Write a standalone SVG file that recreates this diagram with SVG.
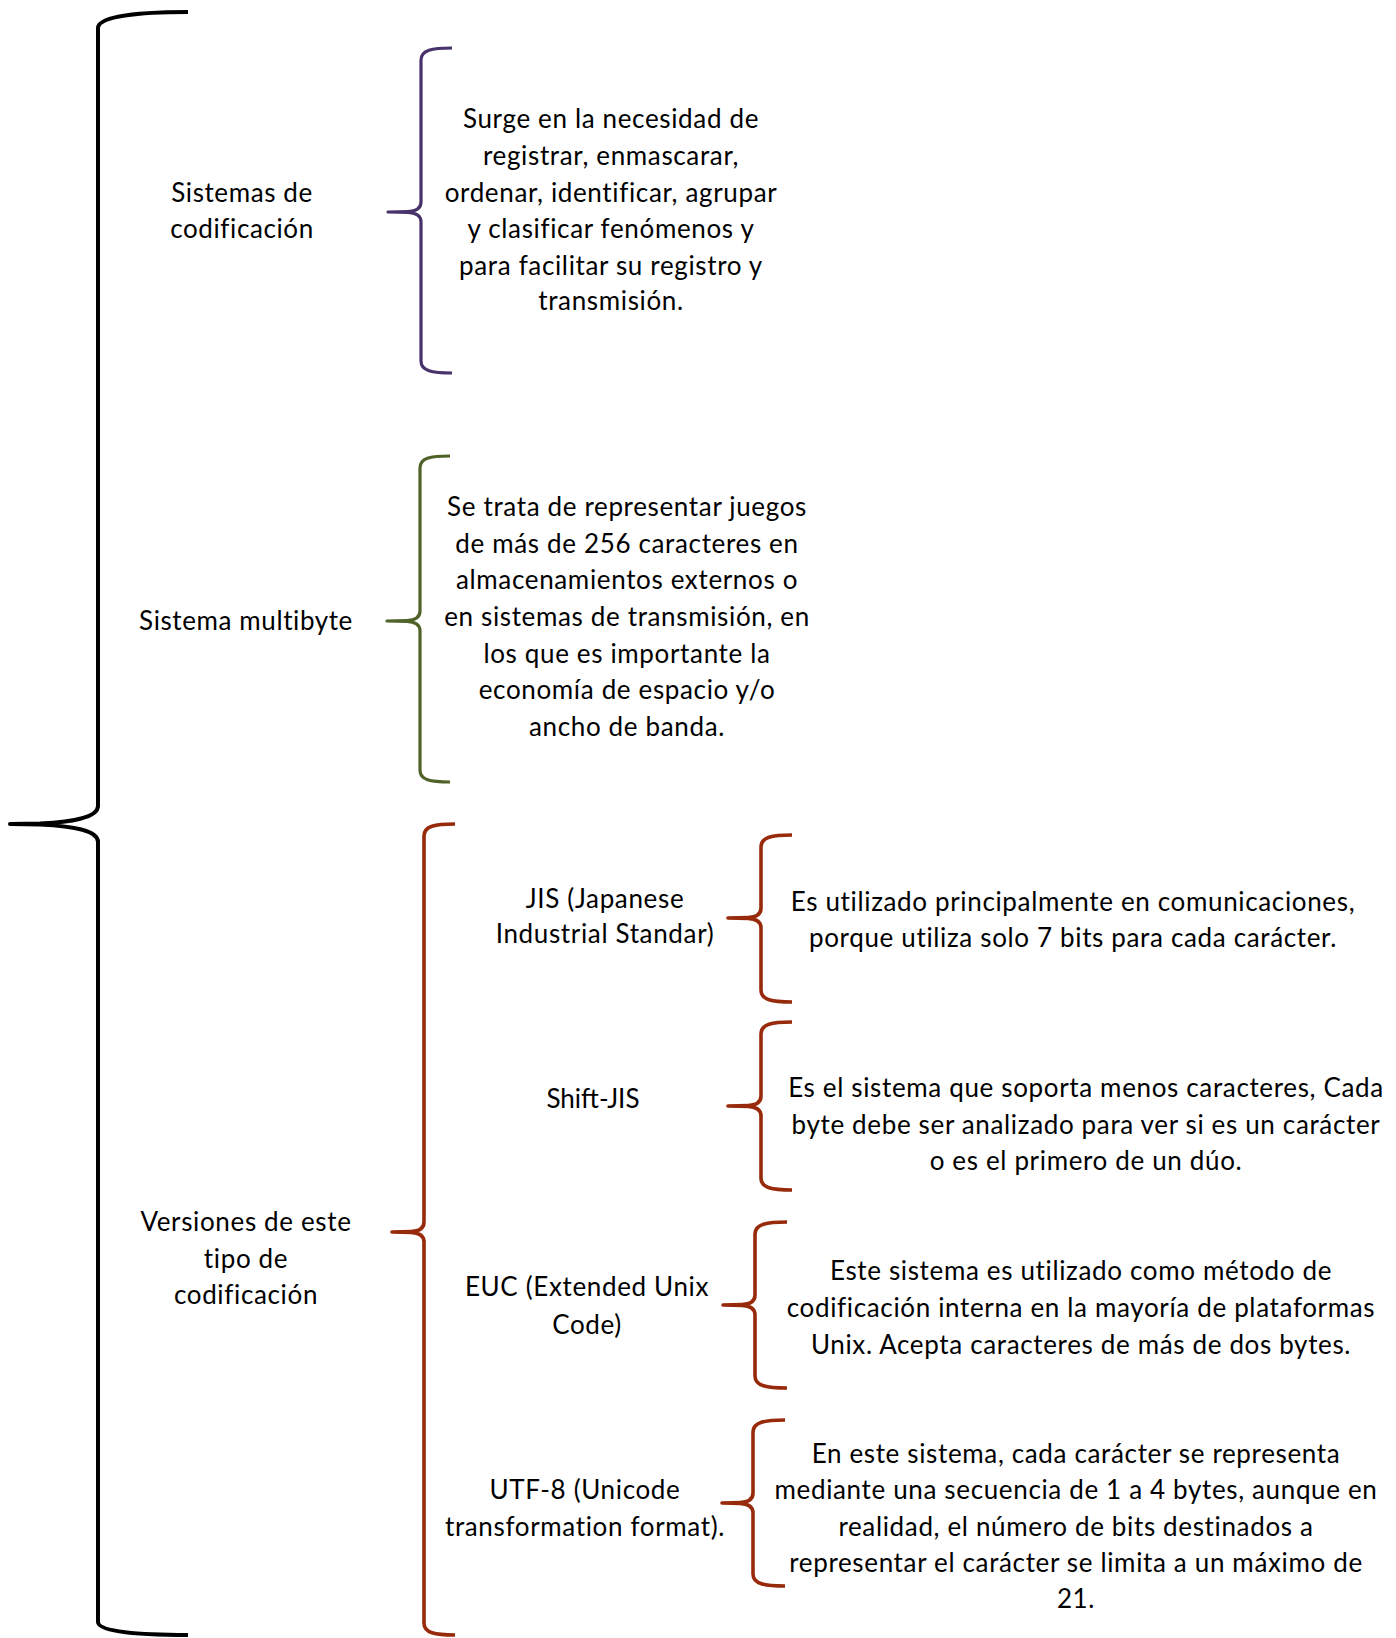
<svg xmlns="http://www.w3.org/2000/svg" width="1396" height="1638" viewBox="0 0 1396 1638">
<style>
.br{fill:none;stroke-linejoin:round;stroke-linecap:butt}
.blk{stroke:#000;stroke-width:4}
.pur{stroke:#48326b;stroke-width:3.2}
.grn{stroke:#4f6228;stroke-width:3.2}
.red{stroke:#982a0c;stroke-width:3.6}
text{font-family:Lato,"Noto Sans","DejaVu Sans",sans-serif;font-size:26px;letter-spacing:0.65px;fill:#000;text-anchor:middle}
.cal{font-family:Lato,"Open Sans","Noto Sans",sans-serif;font-size:26px;letter-spacing:0.6px}
.sj{letter-spacing:0px}
</style>
<rect width="1396" height="1638" fill="#fff"/>
<g id="connectors">
<path class="br blk" d="M188,12 C140,12 98,16 98,28 L98,806 C98,818 70,822 40,823.5 L10,824 L40,824.5 C70,826 98,830 98,842 L98,1622 C98,1632 140,1635 188,1635"/>
<path class="br pur" d="M452,48 C432,48 421,50 421,60 L421,202 Q421,211 408,211.5 L388,212 L408,212.5 Q421,213 421,222 L421,361 C421,371 432,373 452,373"/>
<path class="br grn" d="M450,456 C430,456 420,458 420,468 L420,611 Q420,620 407,620.5 L387,621 L407,621.5 Q420,622 420,631 L420,770 C420,780 430,782 450,782"/>
<path class="br red" d="M455,824 C435,824 424,826 424,836 L424,1222 Q424,1231 411,1231.5 L392,1232 L411,1232.5 Q424,1233 424,1242 L424,1623 C424,1633 435,1635 455,1635"/>
<path class="br red" d="M792,835 C772,835 761,837 761,847 L761,908 Q761,917 748,917.5 L728,918 L748,918.5 Q761,919 761,928 L761,990 C761,1000 772,1002 792,1002"/>
<path class="br red" d="M792,1022 C772,1022 761,1024 761,1034 L761,1096 Q761,1105 748,1105.5 L728,1106 L748,1106.5 Q761,1107 761,1116 L761,1178 C761,1188 772,1190 792,1190"/>
<path class="br red" d="M787,1222 C767,1222 755,1224 755,1234 L755,1295 Q755,1304 742,1304.5 L723,1305 L742,1305.5 Q755,1306 755,1315 L755,1376 C755,1386 767,1388 787,1388"/>
<path class="br red" d="M785,1420 C765,1420 753,1422 753,1432 L753,1493 Q753,1502 740,1502.5 L722,1503 L740,1503.5 Q753,1504 753,1513 L753,1574 C753,1584 765,1586 785,1586"/>
</g>
<g id="n-sistemas-codificacion">
<text class="cal" x="242" y="202">Sistemas de</text>
<text class="cal" x="242" y="238">codificación</text>
</g>
<g id="n-def-codificacion">
<text x="611" y="128">Surge en la necesidad de</text>
<text x="611" y="165">registrar, enmascarar,</text>
<text x="611" y="202">ordenar, identificar, agrupar</text>
<text x="611" y="238">y clasificar fenómenos y</text>
<text x="611" y="275">para facilitar su registro y</text>
<text x="611" y="310">transmisión.</text>
</g>
<g id="n-sistema-multibyte">
<text class="cal" x="246" y="630">Sistema multibyte</text>
</g>
<g id="n-def-multibyte">
<text x="627" y="516">Se trata de representar juegos</text>
<text x="627" y="553">de más de 256 caracteres en</text>
<text x="627" y="589">almacenamientos externos o</text>
<text x="627" y="626">en sistemas de transmisión, en</text>
<text x="627" y="663">los que es importante la</text>
<text x="627" y="699">economía de espacio y/o</text>
<text x="627" y="736">ancho de banda.</text>
</g>
<g id="n-versiones">
<text x="246" y="1231">Versiones de este</text>
<text x="246" y="1268">tipo de</text>
<text x="246" y="1304">codificación</text>
</g>
<g id="n-jis">
<text x="605" y="908">JIS (Japanese</text>
<text x="605" y="943">Industrial Standar)</text>
</g>
<g id="n-jis-desc">
<text x="1073" y="911">Es utilizado principalmente en comunicaciones,</text>
<text x="1073" y="947">porque utiliza solo 7 bits para cada carácter.</text>
</g>
<g id="n-shiftjis">
<text class="cal sj" x="593" y="1108">Shift-JIS</text>
</g>
<g id="n-shiftjis-desc">
<text x="1086" y="1097">Es el sistema que soporta menos caracteres, Cada</text>
<text x="1086" y="1134">byte debe ser analizado para ver si es un carácter</text>
<text x="1086" y="1170">o es el primero de un dúo.</text>
</g>
<g id="n-euc">
<text x="587" y="1296">EUC (Extended Unix</text>
<text x="587" y="1334">Code)</text>
</g>
<g id="n-euc-desc">
<text x="1081" y="1280">Este sistema es utilizado como método de</text>
<text x="1081" y="1317">codificación interna en la mayoría de plataformas</text>
<text x="1081" y="1354">Unix. Acepta caracteres de más de dos bytes.</text>
</g>
<g id="n-utf8">
<text x="585" y="1499">UTF-8 (Unicode</text>
<text x="585" y="1536">transformation format).</text>
</g>
<g id="n-utf8-desc">
<text x="1076" y="1463">En este sistema, cada carácter se representa</text>
<text x="1076" y="1499">mediante una secuencia de 1 a 4 bytes, aunque en</text>
<text x="1076" y="1536">realidad, el número de bits destinados a</text>
<text x="1076" y="1572">representar el carácter se limita a un máximo de</text>
<text x="1076" y="1608">21.</text>
</g>
</svg>
